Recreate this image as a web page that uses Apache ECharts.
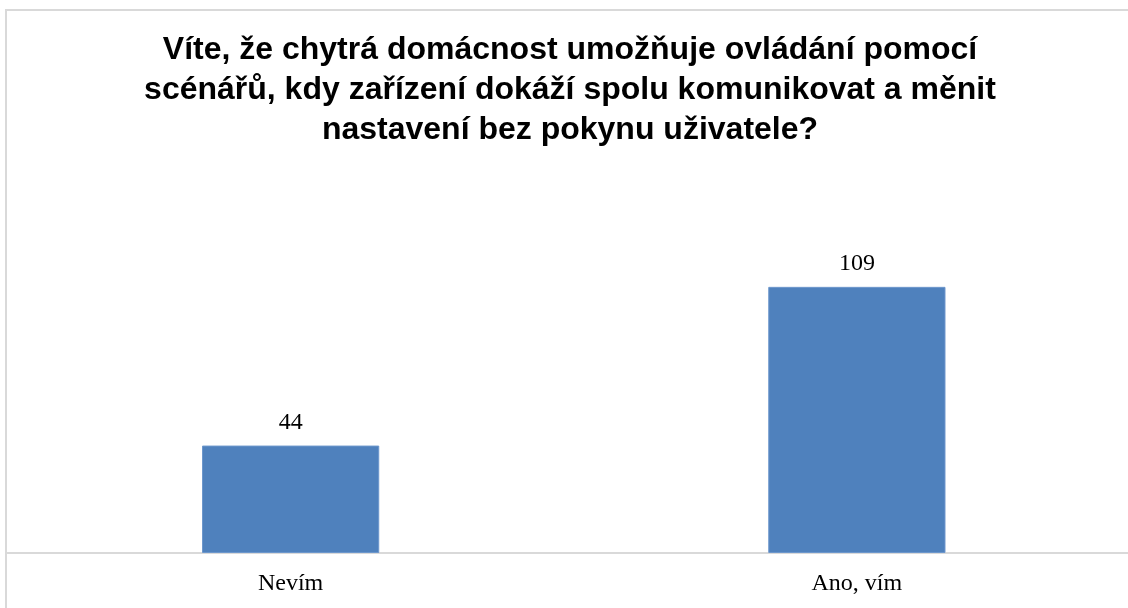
<!DOCTYPE html>
<html><head><meta charset="utf-8">
<script src="https://cdn.jsdelivr.net/npm/echarts@6/dist/echarts.min.js"></script>
<style>html,body{margin:0;padding:0;background:#fff;overflow:hidden}#c{width:1140px;height:608px}</style>
</head><body><div id="c"></div>
<script>
const titleText = 'Víte, že chytrá domácnost umožňuje ovládání pomocí\nscénářů, kdy zařízení dokáží spolu komunikovat a měnit\nnastavení bez pokynu uživatele?';
const categories = ['Nevím', 'Ano, vím'];
const values = [44, 109];

const chart = echarts.init(document.getElementById('c'));
chart.setOption({
  animation: false,
  backgroundColor: '#ffffff',
  graphic: [{
    type: 'rect', silent: true, z: -1,
    shape: { x: 6, y: 10, width: 1160, height: 620 },
    style: { fill: 'none', stroke: '#d9d9d9', lineWidth: 2 }
  }, {
    type: 'text', silent: true,
    x: 570, y: 30,
    style: {
      text: titleText, align: 'center', verticalAlign: 'top',
      fontFamily: 'Liberation Sans', fontWeight: 'bold', fontSize: 32, lineHeight: 40, fill: '#000'
    }
  }],
  grid: { left: 7.5, right: 0, top: 260, bottom: 55, containLabel: false },
  xAxis: {
    type: 'category', data: categories,
    axisLine: { show: true, lineStyle: { color: '#d9d9d9', width: 2 } },
    axisTick: { show: false },
    axisLabel: { margin: 19, fontFamily: 'Liberation Serif', fontSize: 24, color: '#000' }
  },
  yAxis: { type: 'value', min: 0, max: 120, show: false, splitLine: { show: false } },
  series: [{
    type: 'bar', data: values, barWidth: '31.3%',
    itemStyle: { color: '#4f81bd', borderColor: '#6d97cc', borderWidth: 1 },
    label: { show: true, position: 'top', distance: 11, fontFamily: 'Liberation Serif', fontSize: 24, color: '#000' }
  }]
});
</script></body></html>
